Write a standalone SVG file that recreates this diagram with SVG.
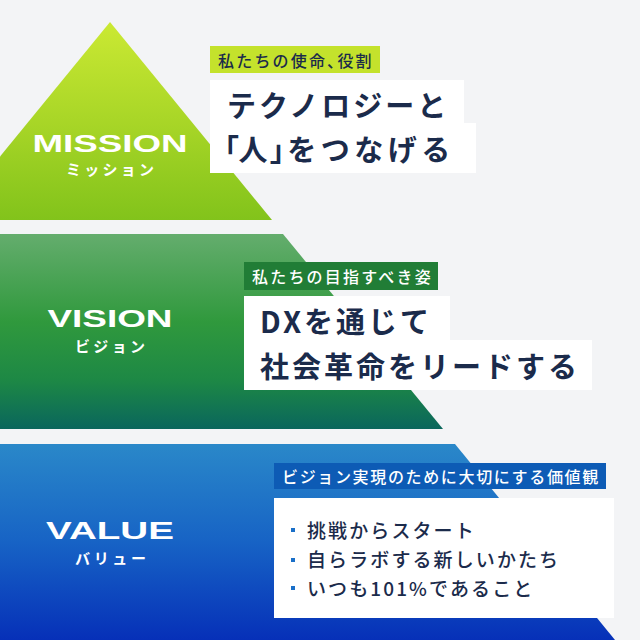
<svg xmlns="http://www.w3.org/2000/svg" width="640" height="640" viewBox="0 0 640 640">
  <defs>
    <linearGradient id="gMission" x1="0" y1="22" x2="0" y2="220" gradientUnits="userSpaceOnUse">
      <stop offset="0" stop-color="#cbe933"/>
      <stop offset="0.55" stop-color="#a5d426"/>
      <stop offset="1" stop-color="#82c31b"/>
    </linearGradient>
    <linearGradient id="gVision" x1="0" y1="234" x2="0" y2="429" gradientUnits="userSpaceOnUse">
      <stop offset="0" stop-color="#64ad6d"/>
      <stop offset="0.45" stop-color="#30993d"/>
      <stop offset="0.75" stop-color="#1d8845"/>
      <stop offset="1" stop-color="#0a665c"/>
    </linearGradient>
    <linearGradient id="gValue" x1="0" y1="444" x2="0" y2="640" gradientUnits="userSpaceOnUse">
      <stop offset="0" stop-color="#2a88c9"/>
      <stop offset="0.5" stop-color="#1763c5"/>
      <stop offset="1" stop-color="#0630b8"/>
    </linearGradient>
    <style>
      .en { font-family: "Liberation Sans", Arial, sans-serif; font-weight: 700; fill: #ffffff; }
      .kana { font-family: "Noto Sans CJK JP", sans-serif; font-weight: 700; fill: #ffffff; font-size: 15px; }
      .tag { font-family: "Noto Sans CJK JP", sans-serif; font-weight: 500; font-size: 16px; }
      .main { font-family: "Noto Sans CJK JP", sans-serif; font-weight: 700; font-size: 29px; fill: #1b2b4b; letter-spacing: 3px; }
      .item { font-family: "Noto Sans CJK JP", sans-serif; font-weight: 500; font-size: 19px; fill: #1b2b4b; letter-spacing: 2.1px; }
      .palt { font-feature-settings: "palt" 1; }
      .box { fill: #ffffff; }
      .bullet { fill: #1a6fc8; }
    </style>
  </defs>
  <rect x="0" y="0" width="640" height="640" fill="#f3f4f6"/>

  <g id="mission">
    <polygon points="110,22 272,220 0,220 0,156.5" fill="url(#gMission)"/>
    <text class="en" x="110" y="152" font-size="24" text-anchor="middle" textLength="155" lengthAdjust="spacingAndGlyphs">MISSION</text>
    <text class="kana" x="110" y="175" text-anchor="middle" textLength="88" lengthAdjust="spacing">ミッション</text>
    <rect x="210" y="46" width="170" height="27" fill="#c4e22c"/>
    <text class="tag" x="218" y="67" fill="#1b2b4b" letter-spacing="2.2">私たちの使命<tspan class="palt">、</tspan>役割</text>
    <rect class="box" x="210" y="80" width="254" height="44"/>
    <rect class="box" x="210" y="123" width="266" height="50"/>
    <text class="main" x="227" y="117" letter-spacing="3.2">テクノロジーと</text>
    <text class="main" x="224" y="161"><tspan class="palt" letter-spacing="0">「</tspan><tspan letter-spacing="2.6">人</tspan><tspan class="palt" letter-spacing="2.6">」</tspan><tspan letter-spacing="4.5">をつなげる</tspan></text>
  </g>

  <g id="vision">
    <polygon points="0,234 283,234 443,429 0,429" fill="url(#gVision)"/>
    <text class="en" x="110" y="327" font-size="24" text-anchor="middle" textLength="125" lengthAdjust="spacingAndGlyphs">VISION</text>
    <text class="kana" x="110" y="352" text-anchor="middle" textLength="70" lengthAdjust="spacing">ビジョン</text>
    <rect x="244" y="262" width="194" height="28" fill="#217d36"/>
    <text class="tag" x="252" y="283" fill="#ffffff" letter-spacing="2.2">私たちの目指すべき姿</text>
    <rect class="box" x="244" y="296" width="206" height="45"/>
    <rect class="box" x="244" y="340" width="348" height="50"/>
    <text class="main" x="260" y="333">DXを通じて</text>
    <text class="main" x="260" y="378">社会革命をリードする</text>
  </g>

  <g id="value">
    <polygon points="0,444 455,444 615,640 0,640" fill="url(#gValue)"/>
    <text class="en" x="110" y="539" font-size="24" text-anchor="middle" textLength="128" lengthAdjust="spacingAndGlyphs">VALUE</text>
    <text class="kana" x="110.5" y="564" text-anchor="middle" textLength="71" lengthAdjust="spacing">バリュー</text>
    <rect x="274" y="463" width="332" height="26" fill="#0d5bb5"/>
    <text class="tag" x="282" y="483" fill="#ffffff" letter-spacing="1.65">ビジョン実現のために大切にする価値観</text>
    <rect class="box" x="274" y="498" width="340" height="120"/>
    <rect class="bullet" x="291" y="528" width="4" height="4"/>
    <rect class="bullet" x="291" y="558" width="4" height="4"/>
    <rect class="bullet" x="291" y="586" width="4" height="4"/>
    <text class="item" x="307" y="538">挑戦からスタート</text>
    <text class="item" x="307" y="567">自らラボする新しいかたち</text>
    <text class="item" x="307" y="596">いつも101%であること</text>
  </g>
</svg>
